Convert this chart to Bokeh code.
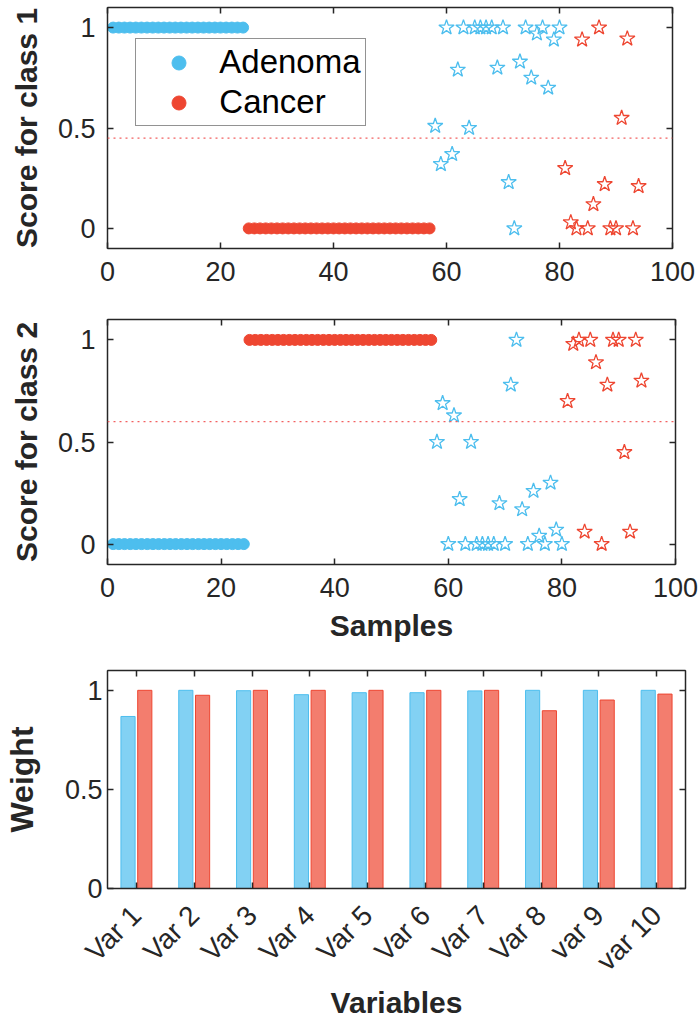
import math
from bokeh.plotting import figure
from bokeh.models import (Range1d, FactorRange, LinearAxis, CategoricalAxis, FixedTicker,
                          Span, Legend, LegendItem, ColumnDataSource, CustomJSTickFormatter)
from bokeh.transform import dodge
from bokeh.layouts import column
from bokeh.embed import file_html
from bokeh.resources import INLINE

# ---------------- data ----------------
train_adenoma_samples = list(range(1, 25))
train_cancer_samples = list(range(25, 58))
test_adenoma_samples = list(range(58, 81))
test_cancer_samples = list(range(81, 95))

train_adenoma_score1 = [1.0] * 24
train_cancer_score1 = [0.0] * 33
test_adenoma_score1 = [0.51, 0.32, 1.00, 0.37, 0.79, 1.00, 0.50, 1.00, 1.00, 1.00, 1.00, 0.80,
                       1.00, 0.23, 0.00, 0.83, 1.00, 0.75, 0.97, 1.00, 0.70, 0.94, 1.00]
test_cancer_score1 = [0.30, 0.03, 0.00, 0.94, 0.00, 0.12, 1.00, 0.22, 0.00, 0.00, 0.55, 0.945,
                      0.00, 0.21]

train_adenoma_score2 = [0.0] * 24
train_cancer_score2 = [1.0] * 33
test_adenoma_score2 = [0.50, 0.69, 0.00, 0.63, 0.22, 0.00, 0.50, 0.00, 0.00, 0.00, 0.00, 0.20,
                       0.00, 0.78, 1.00, 0.17, 0.00, 0.26, 0.04, 0.00, 0.30, 0.07, 0.00]
test_cancer_score2 = [0.70, 0.98, 1.00, 0.06, 1.00, 0.89, 0.00, 0.78, 1.00, 1.00, 0.45, 0.06,
                      1.00, 0.80]

threshold_class1 = 0.45
threshold_class2 = 0.60

x_ticks = [0, 20, 40, 60, 80, 100]
y_ticks = [0, 0.5, 1]
y_tick_labels = {0: "0", 0.5: "0.5", 1: "1"}

variables = ["Var 1", "Var 2", "Var 3", "Var 4", "Var 5", "Var 6", "Var 7", "Var 8", "var 9", "var 10"]
weight_adenoma = [0.868, 1.000, 0.998, 0.978, 0.988, 0.988, 0.997, 1.000, 1.000, 1.000]
weight_cancer = [1.000, 0.975, 1.000, 1.000, 1.000, 1.000, 1.000, 0.897, 0.951, 0.981]

# ---------------- style ----------------
CYAN = "#4DBEEE"
RED = "#EE4631"
AX = "#262626"
FONT = "Liberation Sans"
TICK_FS = "27px"
LABEL_FS = "30px"


def style_axis(ax, show_labels=True):
    ax.axis_line_color = AX
    ax.axis_line_width = 1.5
    ax.major_tick_line_color = AX
    ax.major_tick_line_width = 1.5
    ax.major_tick_in = 6
    ax.major_tick_out = 0
    ax.minor_tick_line_color = None
    ax.major_label_text_font = FONT
    ax.major_label_text_color = AX
    ax.axis_label_text_font = FONT
    ax.axis_label_text_font_style = "bold"
    ax.axis_label_text_font_size = LABEL_FS
    ax.axis_label_text_color = AX
    if show_labels:
        ax.major_label_text_font_size = TICK_FS
    else:
        ax.formatter = CustomJSTickFormatter(code="return ''")
        ax.major_label_text_font_size = "1px"
        ax.major_label_standoff = 0


def scatter_panel(fw, fh, bt, bb, tr_a, tr_c, te_a, te_c, thr, ylabel, xlabel=None):
    p = figure(frame_width=fw, frame_height=fh, x_range=Range1d(0, 100), y_range=Range1d(-0.1, 1.1),
               output_backend="svg", toolbar_location=None,
               min_border_left=105, min_border_right=698 - 105 - fw, min_border_top=bt, min_border_bottom=bb)
    p.xgrid.visible = False
    p.ygrid.visible = False
    p.outline_line_color = AX
    p.xaxis.ticker = FixedTicker(ticks=x_ticks)
    p.yaxis.ticker = FixedTicker(ticks=y_ticks)
    p.yaxis.major_label_overrides = y_tick_labels
    style_axis(p.xaxis[0])
    style_axis(p.yaxis[0])
    p.xaxis.major_label_standoff = 13
    p.yaxis.major_label_standoff = 12
    p.yaxis.axis_label = ylabel
    p.yaxis.axis_label_standoff = 12
    if xlabel:
        p.xaxis.axis_label = xlabel
        p.xaxis.axis_label_standoff = 9
    top = LinearAxis(ticker=FixedTicker(ticks=x_ticks))
    style_axis(top, show_labels=False)
    p.add_layout(top, "above")
    right = LinearAxis(ticker=FixedTicker(ticks=y_ticks))
    style_axis(right, show_labels=False)
    p.add_layout(right, "right")

    p.add_layout(Span(location=thr, dimension="width", line_color="#F26060",
                      line_dash="2 4", line_width=1.3))

    ra = p.scatter(train_adenoma_samples, tr_a, marker="circle", size=11, fill_color=CYAN, line_color=CYAN)
    rc = p.scatter(train_cancer_samples, tr_c, marker="circle", size=11, fill_color=RED, line_color=RED)
    p.scatter(test_adenoma_samples, te_a, marker="star", size=16, fill_color=None,
              line_color=CYAN, line_width=1.3)
    p.scatter(test_cancer_samples, te_c, marker="star", size=16, fill_color=None,
              line_color=RED, line_width=1.3)
    return p, ra, rc


p1, ra1, rc1 = scatter_panel(565, 241, 7, 52, train_adenoma_score1, train_cancer_score1,
                             test_adenoma_score1, test_cancer_score1, threshold_class1, "Score for class 1")
p2, _, _ = scatter_panel(568, 245, 19, 86, train_adenoma_score2, train_cancer_score2,
                         test_adenoma_score2, test_cancer_score2, threshold_class2, "Score for class 2",
                         "Samples")

legend = Legend(items=[LegendItem(label="Adenoma", renderers=[ra1]),
                       LegendItem(label="Cancer", renderers=[rc1])],
                location=(28.3, 121.7))
legend.label_text_font = FONT
legend.label_text_font_size = "33px"
legend.label_text_color = "#000000"
legend.border_line_color = AX
legend.border_line_width = 1
legend.background_fill_color = "white"
legend.background_fill_alpha = 1
legend.padding = 4
legend.margin = 0
legend.glyph_width = 77
legend.glyph_height = 35
legend.label_height = 35
legend.label_standoff = 2
legend.spacing = 2
p1.add_layout(legend)

# ---------------- bar chart ----------------
src = ColumnDataSource(dict(var=variables, a=weight_adenoma, c=weight_cancer))
p3 = figure(frame_width=578, frame_height=218, x_range=FactorRange(*variables), y_range=Range1d(0, 1.1),
            output_backend="svg", toolbar_location=None,
            min_border_left=97, min_border_right=23, min_border_top=20, min_border_bottom=135)
p3.xgrid.visible = False
p3.ygrid.visible = False
p3.outline_line_color = AX
p3.vbar(x=dodge("var", -0.145, range=p3.x_range), top="a", width=0.245, source=src,
        fill_color=CYAN, fill_alpha=0.7, line_color=CYAN, line_width=1)
p3.vbar(x=dodge("var", 0.145, range=p3.x_range), top="c", width=0.245, source=src,
        fill_color=RED, fill_alpha=0.7, line_color=RED, line_width=1)
p3.yaxis.ticker = FixedTicker(ticks=y_ticks)
p3.yaxis.major_label_overrides = y_tick_labels
style_axis(p3.xaxis[0])
style_axis(p3.yaxis[0])
p3.yaxis.major_label_standoff = 5
p3.yaxis.axis_label = "Weight"
p3.yaxis.axis_label_text_font_size = "32px"
p3.yaxis.axis_label_standoff = 22
p3.xaxis.axis_label = "Variables"
p3.xaxis.axis_label_standoff = -4
p3.xaxis.major_label_orientation = math.pi / 4
p3.xaxis.major_label_text_font_size = "28px"
p3.xaxis.major_label_standoff = 22
top3 = CategoricalAxis()
style_axis(top3, show_labels=False)
p3.add_layout(top3, "above")
right3 = LinearAxis(ticker=FixedTicker(ticks=y_ticks))
style_axis(right3, show_labels=False)
p3.add_layout(right3, "right")

layout = column(p1, p2, p3, spacing=0)
open("out.html", "w").write(file_html(layout, INLINE))
